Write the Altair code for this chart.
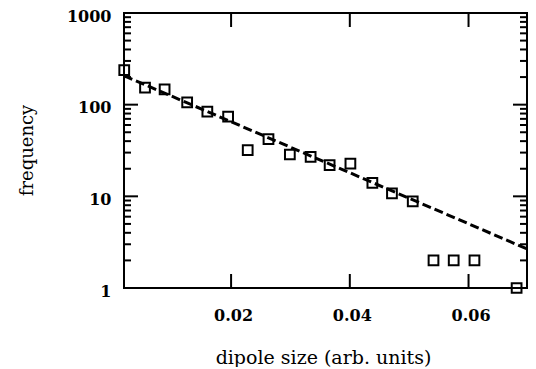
import altair as alt
import pandas as pd

# data
dipole_size = [0.0020, 0.0055, 0.0088, 0.0126, 0.0160, 0.0195, 0.0228, 0.0263,
               0.0299, 0.0334, 0.0366, 0.0401, 0.0438, 0.0471, 0.0506, 0.0541,
               0.0575, 0.0610, 0.0681]
frequency = [238, 153, 147, 106, 84, 74, 32, 42, 28.6, 27, 21.9, 22.8, 14,
             10.8, 8.8, 2, 2, 2, 1]
fit_x = [0.00196, 0.06985]
fit_y = [207, 2.67]

x_domain = [0.00196, 0.06985]
y_domain = [1, 1000]
x_major = [0.02, 0.04, 0.06]
y_major = [1, 10, 100, 1000]
y_minor = [m * d for d in [1, 10, 100] for m in range(2, 10)]

W, H = 403, 275
FONT = "DejaVu Serif"

pts = pd.DataFrame({"x": dipole_size, "y": frequency})
fit = pd.DataFrame({"x": fit_x, "y": fit_y})
ymaj = pd.DataFrame({"v": y_major})
ymin = pd.DataFrame({"v": y_minor})
xmaj = pd.DataFrame({"v": x_major})

xs = alt.Scale(domain=x_domain, nice=False, zero=False)
ys = alt.Scale(type="log", domain=y_domain, nice=False)

xaxis = alt.Axis(values=x_major, format=".2f", ticks=False, domain=False, grid=False,
                 labelFont=FONT, labelFontWeight="bold", labelFontSize=16,
                 labelColor="black", labelPadding=19, labelOffset=2,
                 title="dipole size (arb. units)", titleFont=FONT,
                 titleFontWeight="normal", titleFontSize=19, titleColor="black",
                 titleX=199, titleY=69, titleBaseline="middle", titleAlign="center")
yaxis = alt.Axis(values=y_major, format="d", ticks=False, domain=False, grid=False,
                 labelFont=FONT, labelFontWeight="bold", labelFontSize=16,
                 labelColor="black", labelPadding=13, labelOffset=3,
                 title="frequency", titleFont=FONT, titleFontWeight="normal",
                 titleFontSize=18, titleColor="black", titleAngle=-90,
                 titleX=-97, titleY=137, titleBaseline="middle", titleAlign="center")

points = alt.Chart(pts).mark_point(shape="square", filled=False, size=95,
                                   color="black", strokeWidth=2, opacity=1).encode(
    x=alt.X("x:Q", scale=xs, axis=xaxis),
    y=alt.Y("y:Q", scale=ys, axis=yaxis),
)

line = alt.Chart(fit).mark_line(color="black", strokeWidth=3, strokeDash=[9, 4]).encode(
    x=alt.X("x:Q", scale=xs), y=alt.Y("y:Q", scale=ys)
)

def yticks(df, x0, x1):
    return alt.Chart(df).mark_rule(color="black", strokeWidth=2).encode(
        y=alt.Y("v:Q", scale=ys), x=alt.value(x0), x2=alt.value(x1))

def xticks(y0, y1):
    return alt.Chart(xmaj).mark_rule(color="black", strokeWidth=2).encode(
        x=alt.X("v:Q", scale=xs), y=alt.value(y0), y2=alt.value(y1))

chart = alt.layer(
    yticks(ymaj, 0, 14), yticks(ymin, 0, 7),
    yticks(ymaj, W - 14, W), yticks(ymin, W - 7, W),
    xticks(H - 14, H), xticks(0, 14),
    line, points,
).properties(
    width=W, height=H,
    autosize=alt.AutoSizeParams(type="none"),
    padding={"left": 116, "top": 5, "right": 1, "bottom": 79},
    background="white",
).configure_view(stroke="black", strokeWidth=2)

chart.save("out.html", embed_options={"renderer": "svg", "actions": False})
